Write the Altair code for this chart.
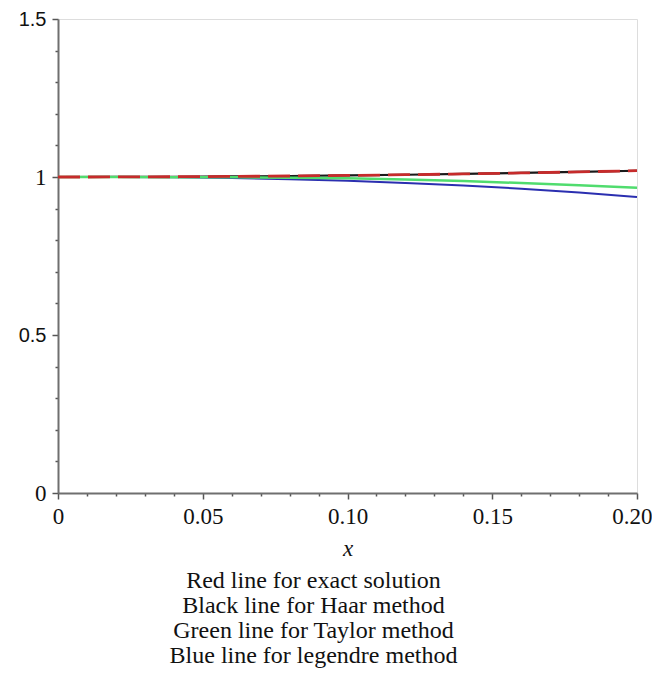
import altair as alt
import pandas as pd

# x positions
xs = [0.0, 0.02, 0.04, 0.06, 0.08, 0.10, 0.12, 0.14, 0.16, 0.18, 0.20]
# series values
exact  = [1.0, 1.0002, 1.0008, 1.0018, 1.0032, 1.0050, 1.0072, 1.0098, 1.0128, 1.0162, 1.0200]
haar   = [1.0, 1.0002, 1.0008, 1.0018, 1.0032, 1.0050, 1.0072, 1.0098, 1.0128, 1.0162, 1.0198]
taylor = [1.0, 0.9999, 0.9996, 0.9990, 0.9980, 0.9960, 0.9920, 0.9870, 0.9810, 0.9740, 0.9660]
legendre = [1.0, 0.9998, 0.9990, 0.9970, 0.9930, 0.9880, 0.9810, 0.9730, 0.9630, 0.9510, 0.9370]

caption = [
    "Red line for exact solution",
    "Black line for Haar method",
    "Green line for Taylor method",
    "Blue line for legendre method",
]

x_ticks = [round(i * 0.01, 2) for i in range(21)]
y_ticks = [round(i * 0.1, 1) for i in range(16)]

SERIF = "Liberation Serif, Times New Roman, serif"
SANS = "Liberation Sans, Arial, sans-serif"

def frame(vals):
    return pd.DataFrame({"x": xs, "y": vals})

x_scale = alt.Scale(domain=[0, 0.2], nice=False, zero=False)
y_scale = alt.Scale(domain=[0, 1.5], nice=False)

x_major = "abs(datum.value*100 - round(datum.value*20)*5) < 0.01"
y_major = "abs(datum.value*10 - round(datum.value*2)*5) < 0.01"
x_last = "datum.value > 0.199"
y_sans = "datum.value == 0.5 || datum.value == 1.5"

x_enc = alt.X(
    "x:Q", scale=x_scale,
    axis=alt.Axis(
        values=x_ticks, title="x", grid=False,
        labelExpr=x_major + " ? (datum.value == 0 ? '0' : format(datum.value, '.2f')) : ''",
        labelFont=SERIF, labelFontSize=23, labelColor="#111",
        labelPadding=6, labelFlush=False,
        labelAlign={"condition": {"test": x_last, "value": "right"}, "value": "center"},
        labelOffset={"condition": {"test": x_last, "value": 15}, "value": 0},
        titleFont=SERIF, titleFontStyle="italic", titleFontWeight="normal",
        titleFontSize=23, titleColor="#111", titlePadding=9,
        domainColor="#6f6f6f", domainWidth=2, tickColor="#555", tickWidth=1.5,
        tickSize={"condition": {"test": x_major, "value": 6}, "value": 3},
    ),
)
y_enc = alt.Y(
    "y:Q", scale=y_scale,
    axis=alt.Axis(
        values=y_ticks, title=None, grid=False,
        labelExpr=y_major + " ? format(datum.value, '') : ''",
        labelFont={"condition": {"test": y_sans, "value": SANS}, "value": SERIF},
        labelFontSize={"condition": {"test": y_sans, "value": 20}, "value": 23},
        labelColor="#111", labelPadding=6,
        domainColor="#6f6f6f", domainWidth=2, tickColor="#555", tickWidth=1.5,
        tickSize={"condition": {"test": y_major, "value": 6}, "value": 3},
    ),
)

def line(vals, color, width=2, dash=None):
    kw = dict(color=color, strokeWidth=width, interpolate="monotone")
    if dash:
        kw["strokeDash"] = dash
    return alt.Chart(frame(vals)).mark_line(**kw).encode(x=x_enc, y=y_enc)

chart = alt.layer(
    line(haar, "#1a1a1a", 2.2),
    line(legendre, "#2b2fb0", 2.0),
    line(taylor, "#50dc6e", 2.5),
    line(exact, "#c62b2b", 2.8, [22, 8]),
).properties(
    width=579, height=474,
    autosize=alt.AutoSizeParams(type="none"),
    padding={"left": 50, "top": 11, "right": 15, "bottom": 180},
    title=alt.TitleParams(
        text=caption, orient="bottom", anchor="middle", dx=-34,
        font=SERIF, fontSize=24, fontWeight="normal",
        color="#111", lineHeight=25, offset=9,
    ),
).configure_view(stroke=None).configure(background="white")

chart.save("out.html", embed_options={"renderer": "svg", "actions": False})
